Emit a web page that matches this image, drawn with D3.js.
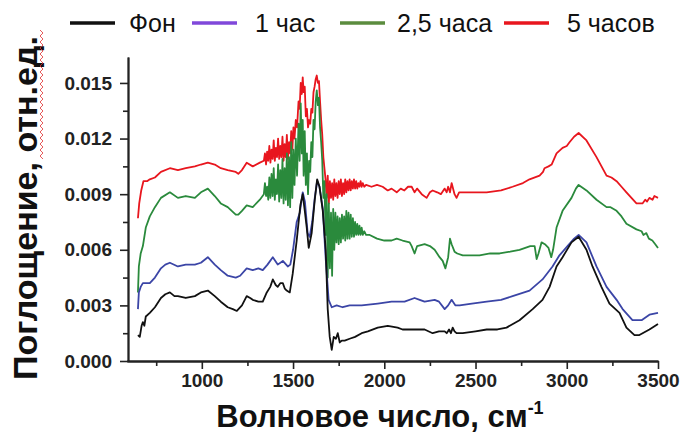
<!DOCTYPE html>
<html>
<head>
<meta charset="utf-8">
<script src="https://cdn.jsdelivr.net/npm/d3@7"></script>
<style>
  body { margin: 0; background: #fff; }
  svg { display: block; font-family: "Liberation Sans", Arial, sans-serif; }
</style>
</head>
<body>
<svg width="684" height="433"></svg>
<script>
// series: [wavenumber, absorbance]
var fon = [[650,.0014],[660,.0013],[670,.0019],[677,.0021],[685,.0019],[693,.0024],[715,.0026],[743,.0029],[776,.0034],[800,.0036],[825,.0037],[850,.0035],[869,.0035],[912,.0034],[962,.0035],[995,.0037],[1033,.0038],[1071,.0035],[1104,.0032],[1142,.0029],[1170,.0028],[1192,.0027],[1220,.0030],[1246,.0035],[1265,.0034],[1279,.0033],[1310,.0032],[1334,.0032],[1356,.0037],[1375,.0040],[1389,.0044],[1405,.0041],[1416,.0040],[1430,.0042],[1444,.0042],[1455,.0039],[1465,.0038],[1482,.0037],[1498,.0047],[1520,.0065],[1540,.0084],[1553,.0090],[1563,.0082],[1575,.0072],[1586,.0061],[1602,.0069],[1619,.0087],[1632,.0098],[1645,.0094],[1663,.0081],[1679,.0060],[1690,.0028],[1701,.0013],[1712,.0006],[1723,.0013],[1735,.0012],[1745,.0015],[1756,.0010],[1767,.0011],[1783,.0011],[1810,.0012],[1840,.0013],[1876,.0015],[1910,.0016],[1964,.0018],[2019,.0019],[2073,.0018],[2100,.0017],[2150,.0017],[2194,.0017],[2221,.0017],[2265,.0015],[2300,.0016],[2331,.0016],[2342,.0015],[2355,.0017],[2365,.0015],[2375,.0018],[2385,.0016],[2396,.0015],[2430,.0015],[2500,.0016],[2561,.0017],[2620,.0017],[2670,.0018],[2741,.0022],[2813,.0028],[2867,.0033],[2906,.0040],[2944,.0051],[2977,.0056],[3026,.0064],[3065,.0067],[3108,.0060],[3141,.0051],[3190,.0040],[3234,.0031],[3289,.0026],[3327,.0018],[3371,.0014],[3398,.0014],[3453,.0017],[3500,.0020]];

var chas1 = [[650,.0028],[655,.0037],[665,.0040],[677,.0042],[693,.0042],[715,.0042],[743,.0045],[776,.0050],[800,.0052],[825,.0053],[869,.0051],[912,.0052],[962,.0052],[995,.0053],[1033,.0056],[1071,.0052],[1104,.0049],[1142,.0046],[1186,.0045],[1210,.0046],[1246,.0050],[1279,.0049],[1310,.0050],[1334,.0049],[1360,.0052],[1389,.0056],[1416,.0052],[1444,.0054],[1471,.0051],[1485,.0052],[1500,.0060],[1520,.0075],[1537,.0080],[1553,.0091],[1565,.0086],[1580,.0069],[1591,.0067],[1605,.0075],[1619,.0088],[1632,.0097],[1645,.0094],[1663,.0082],[1679,.0055],[1695,.0033],[1712,.0029],[1739,.0030],[1772,.0029],[1810,.0030],[1876,.0030],[1964,.0031],[2040,.0032],[2111,.0032],[2166,.0034],[2194,.0033],[2221,.0032],[2276,.0033],[2300,.0032],[2331,.0028],[2350,.0030],[2369,.0033],[2390,.0030],[2413,.0030],[2480,.0031],[2561,.0032],[2640,.0033],[2703,.0035],[2796,.0038],[2867,.0044],[2922,.0051],[2960,.0057],[3004,.0062],[3040,.0066],[3065,.0068],[3108,.0064],[3163,.0051],[3218,.0040],[3273,.0033],[3306,.0028],[3360,.0022],[3410,.0022],[3453,.0025],[3500,.0026]];

var chas25 = [[650,.0037],[655,.0051],[665,.0058],[677,.0062],[693,.0072],[715,.0078],[743,.0083],[776,.0088],[825,.0091],[869,.0088],[912,.0089],[962,.0088],[995,.0091],[1033,.0093],[1071,.0089],[1104,.0085],[1142,.0083],[1186,.0079],[1200,.0079],[1220,.0081],[1246,.0084],[1279,.0083],[1318,.0087],[1340,.0090],
  [1346,.0096],[1352,.0089],[1358,.0094],[1364,.0087],[1370,.0099],[1376,.0088],[1382,.0101],[1388,.0089],[1394,.0104],[1400,.0087],[1406,.0098],[1412,.0090],[1418,.0106],[1424,.0086],[1430,.0103],[1436,.0088],[1442,.0109],[1448,.0085],[1454,.0104],[1460,.0087],[1466,.0112],[1472,.0084],[1478,.0110],[1484,.0083],[1490,.0118],[1496,.0088],[1502,.0114],[1508,.0095],
  [1515,.0120],[1522,.0100],[1530,.0128],[1536,.0108],[1542,.0139],[1548,.0112],[1553,.0130],[1558,.0100],[1564,.0124],[1570,.0095],[1576,.0112],[1582,.0090],[1588,.0108],[1594,.0102],[1600,.0118],[1606,.0110],[1612,.0130],[1618,.0125],[1624,.0140],[1630,.0146],[1636,.0138],[1642,.0142],[1648,.0126],[1654,.0118],[1660,.0108],[1666,.0088],[1672,.0097],[1678,.0068],[1684,.0090],[1690,.0045],[1696,.0085],[1702,.0050],[1708,.0080],[1714,.0046],[1720,.0082],[1726,.0060],[1732,.0080],[1738,.0064],[1744,.0078],[1750,.0063],[1756,.0077],[1762,.0064],[1768,.0079],[1774,.0066],[1780,.0078],[1786,.0065],[1792,.0081],[1798,.0066],[1804,.0080],[1810,.0066],[1816,.0079],[1822,.0067],[1828,.0077],[1834,.0067],[1840,.0075],[1846,.0068],[1852,.0074],[1858,.0068],[1864,.0073],[1870,.0068],[1876,.0072],[1882,.0068],[1890,.0070],[1900,.0068],
  [1920,.0068],[1960,.0066],[2000,.0065],[2040,.0065],[2068,.0066],[2100,.0065],[2139,.0064],[2150,.0062],[2166,.0058],[2180,.0062],[2221,.0063],[2250,.0062],[2276,.0060],[2303,.0056],[2320,.0054],[2335,.0050],[2350,.0056],[2360,.0066],[2369,.0063],[2385,.0059],[2400,.0058],[2430,.0057],[2480,.0057],[2522,.0057],[2580,.0058],[2632,.0058],[2690,.0059],[2741,.0060],[2800,.0062],[2824,.0062],[2835,.0055],[2845,.0058],[2862,.0064],[2880,.0063],[2900,.0061],[2915,.0056],[2925,.0060],[2944,.0072],[2977,.0081],[3026,.0088],[3050,.0093],[3065,.0095],[3108,.0092],[3163,.0087],[3218,.0083],[3240,.0083],[3273,.0081],[3300,.0078],[3327,.0074],[3382,.0071],[3410,.0070],[3420,.0068],[3436,.0069],[3450,.0066],[3469,.0065],[3485,.0063],[3500,.0061]];

var chas5 = [[650,.0077],[657,.0085],[668,.0092],[680,.0097],[700,.0097],[715,.0098],[743,.0099],[776,.0102],[825,.0104],[869,.0103],[912,.0104],[962,.0105],[995,.0106],[1033,.0107],[1071,.0106],[1104,.0104],[1142,.0103],[1186,.0102],[1200,.0101],[1220,.0103],[1246,.0107],[1279,.0105],[1318,.0107],[1340,.0108],
  [1346,.0112],[1352,.0106],[1358,.0113],[1364,.0108],[1370,.0116],[1376,.0107],[1382,.0114],[1388,.0109],[1394,.0119],[1400,.0108],[1406,.0115],[1412,.0110],[1418,.0120],[1424,.0109],[1430,.0116],[1436,.0110],[1442,.0121],[1448,.0108],[1454,.0117],[1460,.0110],[1466,.0122],[1472,.0109],[1478,.0118],[1484,.0112],[1490,.0124],[1496,.0114],[1502,.0126],[1508,.0120],
  [1515,.0130],[1522,.0126],[1530,.0140],[1536,.0136],[1542,.0150],[1548,.0144],[1553,.0153],[1558,.0145],[1564,.0148],[1570,.0132],[1576,.0136],[1582,.0126],[1588,.0130],[1594,.0128],[1600,.0136],[1606,.0134],[1612,.0145],[1618,.0148],[1624,.0152],[1630,.0154],[1636,.0150],[1642,.0151],[1648,.0140],[1654,.0130],[1660,.0122],[1666,.0110],[1672,.0104],[1678,.0098],[1684,.0088],[1690,.0100],[1696,.0085],[1702,.0097],[1708,.0088],[1714,.0096],[1720,.0087],[1726,.0098],[1732,.0089],[1738,.0096],[1744,.0088],[1750,.0097],[1756,.0090],[1762,.0098],[1768,.0089],[1774,.0096],[1780,.0090],[1786,.0098],[1792,.0091],[1798,.0097],[1804,.0092],[1810,.0098],[1816,.0092],[1822,.0097],[1828,.0093],[1834,.0098],[1840,.0093],[1846,.0097],[1852,.0093],[1858,.0096],[1864,.0094],[1870,.0097],[1876,.0094],[1882,.0096],[1890,.0094],[1900,.0095],
  [1930,.0094],[1960,.0095],[1991,.0094],[2019,.0092],[2040,.0093],[2068,.0091],[2090,.0093],[2110,.0092],[2130,.0094],[2150,.0094],[2166,.0091],[2180,.0093],[2205,.0090],[2232,.0088],[2250,.0091],[2265,.0092],[2290,.0091],[2310,.0090],[2331,.0093],[2342,.0091],[2350,.0094],[2360,.0091],[2369,.0096],[2385,.0090],[2396,.0088],[2410,.0091],[2430,.0091],[2480,.0091],[2561,.0091],[2640,.0092],[2703,.0094],[2760,.0096],[2796,.0098],[2851,.0100],[2870,.0102],[2878,.0104],[2900,.0105],[2917,.0106],[2944,.0112],[2977,.0115],[3000,.0116],[3015,.0118],[3040,.0121],[3065,.0123],[3108,.0119],[3163,.0110],[3218,.0100],[3245,.0099],[3273,.0097],[3300,.0094],[3327,.0091],[3382,.0085],[3415,.0085],[3430,.0087],[3440,.0086],[3453,.0088],[3470,.0087],[3480,.0089],[3500,.0088]];

var seriesNames = ["Фон", "1 час", "2,5 часа", "5 часов"];
var xTicks = [1000, 1500, 2000, 2500, 3000, 3500];
var xMinor = [750, 1250, 1750, 2250, 2750, 3250];
var yTicks = [0, 0.003, 0.006, 0.009, 0.012, 0.015];
var yMinor = [0.0015, 0.0045, 0.0075, 0.0105, 0.0135];

var svg = d3.select('svg');

var x = d3.scaleLinear().domain([590, 3500]).range([127, 658]);
var y = d3.scaleLinear().domain([0, 0.0164]).range([361, 57]);

var lineColors = ["#111111", "#3b45a6", "#2a8a3c", "#e8161e"];
var legendColors = ["#111111", "#8048da", "#5b8c3e", "#e8161e"];
var data = [fon, chas1, chas25, chas5];

// axes
var axisFont = function(g){
	g.selectAll('text')
		.attr('font-family', '"Liberation Sans", Arial, sans-serif')
		.attr('font-size', 19)
		.attr('font-weight', 'bold')
		.attr('fill', '#222');
	g.selectAll('line').attr('stroke', '#222').attr('stroke-width', 1.6);
	g.select('.domain').attr('stroke', '#222').attr('stroke-width', 1.8);
};

svg.append('g')
	.attr('transform', 'translate(0,361)')
	.call(d3.axisBottom(x).tickValues(xMinor).tickSize(5).tickSizeOuter(0).tickFormat(''))
	.call(axisFont);
svg.append('g')
	.attr('transform', 'translate(0,361)')
	.call(d3.axisBottom(x).tickValues(xTicks).tickSize(8).tickSizeOuter(0).tickPadding(5).tickFormat(d3.format('d')))
	.call(axisFont);

svg.append('g')
	.attr('transform', 'translate(128,0)')
	.call(d3.axisLeft(y).tickValues(yMinor).tickSize(5).tickSizeOuter(0).tickFormat(''))
	.call(axisFont);
svg.append('g')
	.attr('transform', 'translate(128,0)')
	.call(d3.axisLeft(y).tickValues(yTicks).tickSize(8).tickSizeOuter(0).tickPadding(8).tickFormat(d3.format('.3f')))
	.call(axisFont);

// curves, red first so the others sit on top
var line = d3.line().x(d => x(d[0])).y(d => y(d[1]));
[3, 2, 1, 0].forEach(function(i){
	svg.append('path')
		.datum(data[i])
		.attr('d', line)
		.attr('fill', 'none')
		.attr('stroke', lineColors[i])
		.attr('stroke-width', 1.8)
		.attr('stroke-linejoin', 'round');
});

// legend
var legendX = [70, 192, 340, 504];
var legendTextX = [129, 255, 397, 567];
var legend = svg.append('g').attr('transform', 'translate(0,23)');
seriesNames.forEach(function(name, i){
	legend.append('line')
		.attr('x1', legendX[i]).attr('x2', legendX[i] + 45)
		.attr('stroke', legendColors[i])
		.attr('stroke-width', 3.5);
	legend.append('text')
		.attr('x', legendTextX[i])
		.attr('y', 9)
		.attr('font-size', 25)
		.attr('fill', '#111')
		.text(name);
});

// axis titles
svg.append('text')
	.attr('x', 380)
	.attr('y', 427)
	.attr('text-anchor', 'middle')
	.attr('font-size', 31)
	.attr('font-weight', 'bold')
	.attr('fill', '#111')
	.html('Волновое число, см<tspan dy="-13" font-size="18">-1</tspan>');

svg.append('text')
	.attr('transform', 'translate(37,208) rotate(-90)')
	.attr('text-anchor', 'middle')
	.attr('font-size', 34)
	.attr('font-weight', 'bold')
	.attr('fill', '#111')
	.text('Поглощение, отн.ед.');

// red spell-check squiggle next to "отн.ед."
var sq = d3.range(30, 160, 3).map((v, i) => [i % 2 ? 43 : 40, v]);
svg.append('path')
	.attr('d', d3.line()(sq))
	.attr('fill', 'none')
	.attr('stroke', '#e03030')
	.attr('stroke-width', 0.8);
</script>
</body>
</html>
